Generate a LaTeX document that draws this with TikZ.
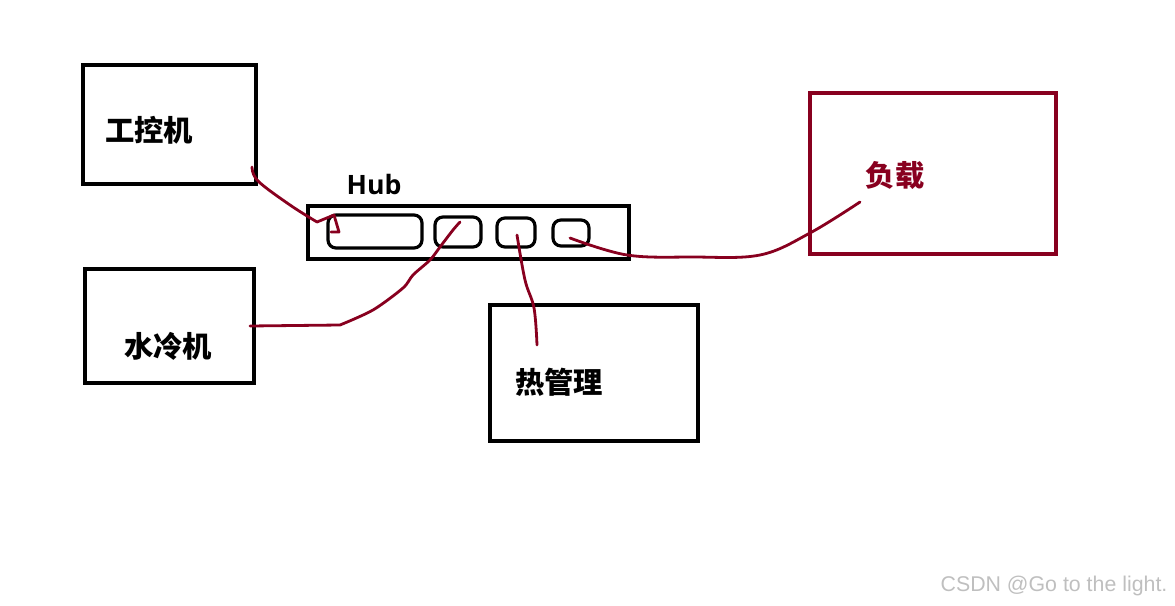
\documentclass[tikz,border=0pt]{standalone}
\usepackage{fontspec}
\newfontfamily\cjk{Noto Sans CJK SC}
\newfontfamily\hubfont{Open Sans}
\newfontfamily\wmfont{Liberation Sans}
\definecolor{wire}{HTML}{88001F}
\begin{document}
\begin{tikzpicture}[x=0.75pt,y=-0.75pt,
  blackbox/.style={draw=black,line width=3pt,inner sep=0pt},
  redbox/.style={draw=wire,line width=3pt,inner sep=0pt},
  port/.style={draw=black,line width=2.4pt,rounded corners=6pt,inner sep=0pt},
  cjklabel/.style={font=\cjk\bfseries\fontsize{22pt}{24pt}\selectfont,inner sep=0pt},
  wireline/.style={draw=wire,line width=2.1pt,line cap=round,line join=round}]
\useasboundingbox (0,0) rectangle (1175,606);
% boxes
\node[blackbox,minimum width=173*0.75pt,minimum height=119*0.75pt] (ipc) at (169.5,124.5) {};
\node[blackbox,minimum width=169*0.75pt,minimum height=114*0.75pt] (cool) at (169.5,326) {};
\node[blackbox,minimum width=208*0.75pt,minimum height=136*0.75pt] (therm) at (594,373) {};
\node[redbox,minimum width=246*0.75pt,minimum height=161*0.75pt] (load) at (933,173.5) {};
\node[blackbox,minimum width=321*0.75pt,minimum height=53*0.75pt] (hub) at (468.5,232.5) {};
\node[port,minimum width=94*0.75pt,minimum height=33*0.75pt] (p1) at (375,231.5) {};
\node[port,minimum width=46*0.75pt,minimum height=30*0.75pt] (p2) at (458,232) {};
\node[port,minimum width=38*0.75pt,minimum height=29*0.75pt] (p3) at (516,232.5) {};
\node[port,minimum width=36*0.75pt,minimum height=26*0.75pt] (p4) at (571,233) {};
% labels
\node[cjklabel] (ipcl) at (149,130) {工控机};
\node[cjklabel] (cooll) at (168,346) {水冷机};
\node[cjklabel] (therml) at (559,382) {热管理};
\node[cjklabel,text=wire] (loadl) at (895,176) {负载};
\node[font=\hubfont\bfseries\fontsize{20pt}{24pt}\selectfont,inner sep=0pt] (hubl) at (374,185) {Hub};
\node[font=\wmfont\fontsize{16pt}{18pt}\selectfont,text=gray!50,inner sep=0pt] (wm) at (1054,586) {CSDN @Go to the light.};
% wire end points
\coordinate (w1s) at (252,167);
\coordinate (w1e) at (331,232);
\coordinate (w2s) at (250,326);
\coordinate (w2e) at (460,222);
\coordinate (w3s) at (537,345);
\coordinate (w3e) at (517,235);
\coordinate (w4s) at (570,238);
\coordinate (w4e) at (860,202);
% wires
\draw[wireline] plot[smooth,tension=0.6] coordinates {(w1s) (258,181) (290,205) (317,222)} -- (334,215) -- (339,232) -- (w1e);
\draw[wireline] (w2s) -- (340,325) plot[smooth,tension=0.5] coordinates {(340,325) (373,310) (403,288) (413,275) (430,260) (440,247) (453,230) (w2e)};
\draw[wireline] plot[smooth,tension=0.6] coordinates {(w3s) (534,308) (525,280) (w3e)};
\draw[wireline] plot[smooth,tension=0.6] coordinates {(w4s) (627,255) (693,257) (760,255) (810,233) (w4e)};
\end{tikzpicture}
\end{document}
